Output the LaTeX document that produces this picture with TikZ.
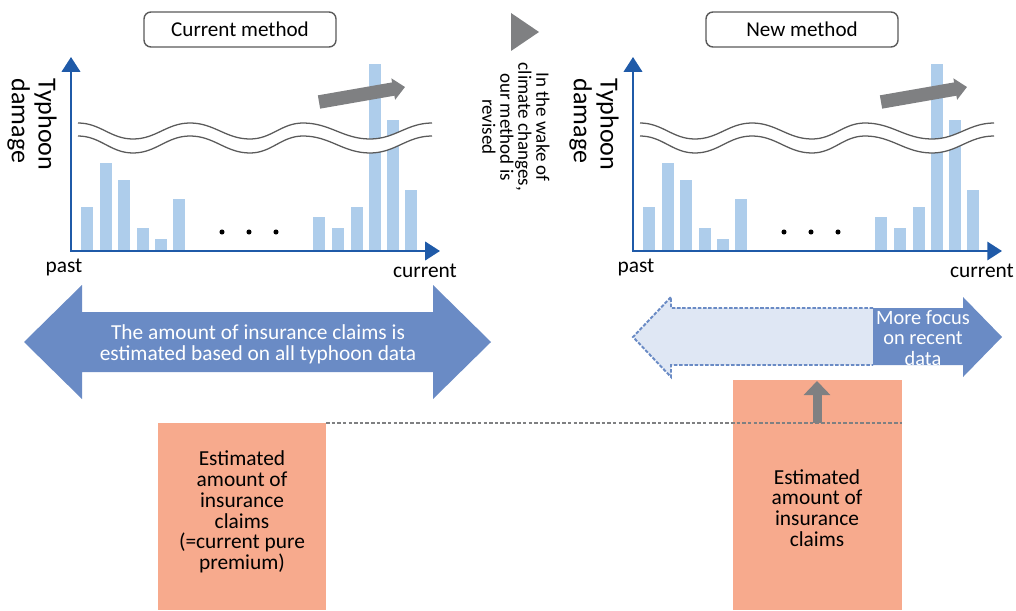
\documentclass[tikz,border=0pt]{standalone}
\usepackage{fontspec}
\setmainfont{Carlito}
\usetikzlibrary{arrows.meta}

\definecolor{axisblue}{HTML}{1F5AA8}
\definecolor{barblue}{HTML}{AECDEB}
\definecolor{arrowblue}{HTML}{6A8BC5}
\definecolor{paleblue}{HTML}{DFE7F4}
\definecolor{salmon}{HTML}{F7AA8D}
\definecolor{trendgray}{HTML}{7F8082}
\definecolor{wavegray}{HTML}{5A5A5A}

\begin{document}
\begin{tikzpicture}[x=0.025cm, y=-0.025cm,
    axis/.style  = {draw=axisblue, line width=1.8pt, {Triangle[width=13pt,length=10.5pt]}-{Triangle[width=13pt,length=10.5pt]}},
    bar/.style   = {fill=barblue},
    wave/.style  = {draw=wavegray, line width=0.9pt},
    trend/.style = {draw=trendgray, line width=9.6pt, -{Triangle[width=15pt,length=8.5pt]}},
    rise/.style  = {draw=trendgray, line width=6.4pt, -{Triangle[width=18.5pt,length=10pt]}},
    level/.style = {draw=trendgray, line width=0.9pt, dash pattern=on 2.5pt off 1.5pt},
    title/.style = {draw=wavegray, line width=1pt, rounded corners=5pt, fill=white, minimum width=4.8cm, minimum height=0.875cm, font=\fontsize{15}{17}\selectfont},
    txt/.style   = {align=center, font=\fontsize{15.2}{14.8}\selectfont},
    side/.style  = {rotate=-90, align=left, font=\fontsize{18.5}{19}\selectfont},
    note/.style  = {rotate=-90, align=center, font=\fontsize{13.5}{12.8}\selectfont}]

    \useasboundingbox (0,0) rectangle (1016,610);

    % Charts {cur, new}
    \foreach \dx/\nm/\pa/\cu/\ttl in {0/cur/64/425/Current method, 562/new/74/420/New method} {
    \begin{scope}[shift={(\dx,0)}]
        \node [title]                 (\nm-title) at (240,29.5)  {\ttl};
        \node [side]                  (\nm-ylab)  at (32,124.5)  {Typhoon\\damage};

        % Bars
        \foreach \bx/\bt in {81/207, 100/163, 118/180, 137/228, 155/239, 173/199,
                             313/217, 332/228, 351/207, 369/64, 387/120, 405/190}
            \fill [bar] (\bx,\bt) rectangle (\bx+12,250);
        \foreach \px in {222, 249, 276}
            \fill (\px,232) circle (1.8pt);

        % Wave band
        \fill [white] (78,123) to[out=0,in=180] (133,139) to[out=0,in=180] (190,123)
            to[out=0,in=180] (250,139) to[out=0,in=180] (303,123) to[out=0,in=180] (370,139)
            to[out=0,in=180] (432,123) -- (432,136) to[out=180,in=0] (370,153)
            to[out=180,in=0] (303,136) to[out=180,in=0] (250,153) to[out=180,in=0] (190,136)
            to[out=180,in=0] (133,153) to[out=180,in=0] (78,136) -- cycle;
        \draw [wave] (78,123) to[out=0,in=180] (133,139) to[out=0,in=180] (190,123)
            to[out=0,in=180] (250,139) to[out=0,in=180] (303,123) to[out=0,in=180] (370,139)
            to[out=0,in=180] (432,123);
        \draw [wave] (78,136) to[out=0,in=180] (133,153) to[out=0,in=180] (190,136)
            to[out=0,in=180] (250,153) to[out=0,in=180] (303,136) to[out=0,in=180] (370,153)
            to[out=0,in=180] (432,136);

        % Axes and trend
        \coordinate (\nm-o)  at (71,251);
        \coordinate (\nm-y)  at (71,57);
        \coordinate (\nm-x)  at (440,251);
        \coordinate (\nm-t0) at (319,102);
        \coordinate (\nm-t1) at (405,87);
        \draw [axis]  (\nm-y) -- (\nm-o) -- (\nm-x);
        \draw [trend] (\nm-t0) -- (\nm-t1);

        \node [txt, anchor=base]      (\nm-past)  at (\pa,272)   {past};
        \node [txt, anchor=base]      (\nm-now)   at (\cu,277)   {current};
    \end{scope}
    }

    % Revision mark
    \fill [trendgray] (511,13) -- (539,32) -- (511,51) -- cycle;
    \node [note]                      (revise)    at (516,127)   {In the wake of\\climate changes,\\our method is\\revised};

    % Estimation spans
    \fill [arrowblue] (24,342) -- (82,285) -- (82,312) -- (433,312) -- (433,285) -- (491,342)
        -- (433,399) -- (433,372) -- (82,372) -- (82,399) -- cycle;
    \node [txt, text=white]           (alldata)   at (258,344)   {The amount of insurance claims is\\estimated based on all typhoon data};

    \fill [paleblue] (633,337) -- (671,297) -- (671,308) -- (873,308) -- (873,365) -- (671,365)
        -- (671,377) -- cycle;
    \draw [arrowblue, line width=1.4pt, dash pattern=on 2.5pt off 1.2pt] (873,308) -- (671,308)
        -- (671,297) -- (633,337) -- (671,377) -- (671,365) -- (873,365);
    \fill [arrowblue] (873,308) -- (963,308) -- (963,297) -- (1002,337) -- (963,377) -- (963,365)
        -- (873,365) -- cycle;
    \node [txt, text=white, font=\fontsize{14.5}{14.8}\selectfont]
                                      (recent)    at (923,338)   {More focus\\on recent\\data};

    % Claims
    \fill [salmon] (158,423) rectangle (326,610);
    \fill [salmon] (733,380) rectangle (902,610);
    \node [txt]                       (oldclaims) at (242,512)   {Estimated\\amount of\\insurance\\claims\\(=current pure\\premium)};
    \node [txt]                       (newclaims) at (817,508)   {Estimated\\amount of\\insurance\\claims};

    % Paths
    \coordinate (lvl0) at (326,423);
    \coordinate (lvl1) at (902,423);
    \coordinate (up0)  at (817,423);
    \coordinate (up1)  at (817,381);
    \draw [level] (lvl0) -- (lvl1);
    \draw [rise]  (up0) -- (up1);

\end{tikzpicture}
\end{document}
